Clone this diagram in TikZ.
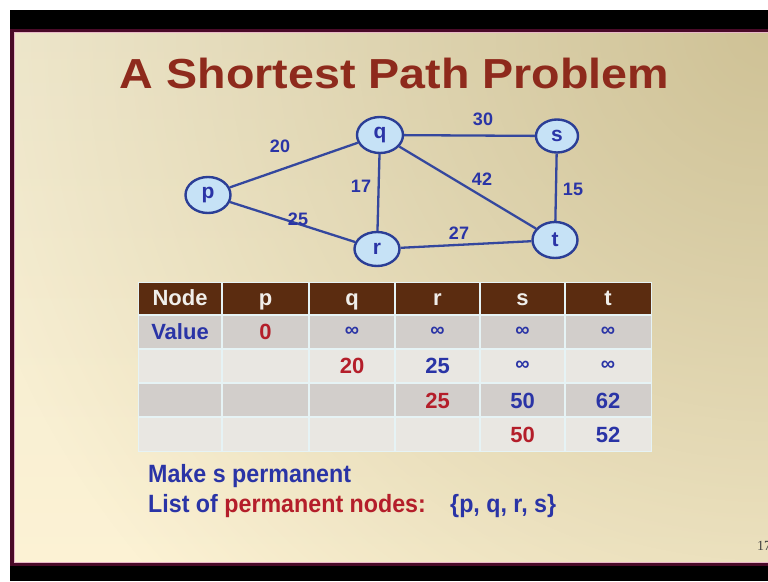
\documentclass[tikz,border=0pt]{standalone}
\usepackage{fontspec}
\setmainfont{Liberation Sans}
\newfontfamily\titlefont{Liberation Sans}[FakeStretch=1.11]
\newfontfamily\bodyfont{Liberation Sans}[FakeStretch=0.93]
\newfontfamily\numfont{Liberation Serif}
\usetikzlibrary{shapes.geometric,fadings}
\definecolor{titlered}{HTML}{8E2A1C}
\definecolor{txtblue}{HTML}{2A34A6}
\definecolor{txtred}{HTML}{B41E2A}
\definecolor{edgeblue}{HTML}{34479E}
\definecolor{nodefill}{HTML}{C6E2F6}
\definecolor{nodeline}{HTML}{2B3E96}
\definecolor{hdrbrown}{HTML}{5B2C10}
\definecolor{hdrtext}{HTML}{F0EEEA}
\definecolor{rowgray}{HTML}{D2CECB}
\definecolor{rowlight}{HTML}{E9E7E2}
\definecolor{sepcol}{HTML}{E6F3F5}
\definecolor{slideborder}{HTML}{4A0A28}
\definecolor{slidepink}{HTML}{E8B8C8}
\definecolor{bgdark}{HTML}{CFC296}
\definecolor{bgtop}{HTML}{F0E9CF}
\definecolor{bglight}{HTML}{FCF2D4}
\tikzfading[name=cornerglow, inner color=transparent!0, outer color=transparent!100]
\begin{document}
\begin{tikzpicture}[x=1pt,y=-1pt,
  gnode/.style={ellipse, draw=nodeline, line width=2.4pt, fill=nodefill,
    minimum width=45pt, minimum height=36pt, inner sep=0pt, text=txtblue,
    font=\bfseries\fontsize{21}{22}\selectfont},
  edgeline/.style={draw=edgeblue, line width=2.3pt},
  elabel/.style={text=txtblue, inner sep=0pt, font=\bfseries\fontsize{18}{20}\selectfont},
  cell/.style={anchor=base, inner sep=0pt, font=\bfseries\fontsize{22}{24}\selectfont},
  hdr/.style={cell, text=hdrtext},
  bluecell/.style={cell, text=txtblue},
  redcell/.style={cell, text=txtred},
  infcell/.style={anchor=center, inner sep=0pt, text=txtblue, font=\bfseries\fontsize{20}{22}\selectfont},
  bodytext/.style={anchor=base west, inner sep=0pt, font=\bodyfont\bfseries\fontsize{25}{28}\selectfont}
]
\useasboundingbox (0,0) rectangle (768,581);
\clip (0,0) rectangle (768,581);
\fill[white] (0,0) rectangle (768,581);
% slide background
\shade[top color=bgtop, bottom color=bglight] (10,29) rectangle (768,566);
\begin{scope}
  \clip (10,29) rectangle (768,566);
  \fill[bgdark, path fading=cornerglow] (768,29) circle (820);
\end{scope}
\fill[black] (10,10) rectangle (768,29);
\fill[black] (10,566) rectangle (768,581);
\fill[slideborder] (10,29) rectangle (768,32);
\fill[slideborder] (10,29) rectangle (14,566);
\fill[slideborder] (10,563) rectangle (768,566);
\draw[slidepink, line width=0.6pt] (14,32.4) -- (768,32.4);
\draw[slidepink, line width=0.6pt] (14.4,32.4) -- (14.4,562.6);
\draw[slidepink, line width=0.6pt] (14.4,562.6) -- (768,562.6);

% title
\node[anchor=base, inner sep=0pt, text=titlered, font=\titlefont\bfseries\fontsize{42}{50}\selectfont] (title) at (394.5,88) {A Shortest Path Problem};

% graph
\node[gnode] (p) at (208,195) {p};
\node[gnode, minimum width=46pt] (q) at (380,135) {q};
\node[gnode, minimum width=42pt, minimum height=33pt] (s) at (557,136) {s};
\node[gnode, minimum height=34pt] (r) at (377,249) {r};
\node[gnode] (t) at (555,240) {t};
\draw[edgeline] (p) -- (q);
\draw[edgeline] (p) -- (r);
\draw[edgeline] (q) -- (s);
\draw[edgeline] (q) -- (r);
\draw[edgeline] (q) -- (t);
\draw[edgeline] (s) -- (t);
\draw[edgeline] (r) -- (t);
\node[elabel] (lpq) at (280,146) {20};
\node[elabel] (lqs) at (483,119) {30};
\node[elabel] (lqr) at (361,186) {17};
\node[elabel] (lqt) at (482,179) {42};
\node[elabel] (lst) at (573,189) {15};
\node[elabel] (lpr) at (298,219) {25};
\node[elabel] (lrt) at (459,233) {27};

% table
\fill[hdrbrown] (138,282) rectangle (651,315);
\fill[rowgray] (138,315) rectangle (651,349);
\fill[rowlight] (138,349) rectangle (651,383);
\fill[rowgray] (138,383) rectangle (651,417);
\fill[rowlight] (138,417) rectangle (651,451);
\foreach \yy in {315,349,383,417} \draw[sepcol, line width=1.6pt] (138,\yy) -- (651,\yy);
\foreach \xx in {222,309,395,480,565} \draw[sepcol, line width=1.6pt] (\xx,282) -- (\xx,451);
\draw[sepcol, line width=1pt] (138,282) rectangle (651,451);

\node[hdr] (hNode) at (180,305.5) {Node};
\node[hdr] (hp) at (265.5,305.5) {p};
\node[hdr] (hq) at (352,305.5) {q};
\node[hdr] (hr) at (437.5,305.5) {r};
\node[hdr] (hs) at (522.5,305.5) {s};
\node[hdr] (ht) at (608,305.5) {t};

\node[bluecell] (vlabel) at (180,339.5) {Value};
\node[redcell] (v1p) at (265.5,339.5) {0};
\node[infcell] (v1q) at (352,332) {∞};
\node[infcell] (v1r) at (437.5,332) {∞};
\node[infcell] (v1s) at (522.5,332) {∞};
\node[infcell] (v1t) at (608,332) {∞};

\node[redcell] (v2q) at (352,373.5) {20};
\node[bluecell] (v2r) at (437.5,373.5) {25};
\node[infcell] (v2s) at (522.5,366) {∞};
\node[infcell] (v2t) at (608,366) {∞};

\node[redcell] (v3r) at (437.5,408) {25};
\node[bluecell] (v3s) at (522.5,408) {50};
\node[bluecell] (v3t) at (608,408) {62};

\node[redcell] (v4s) at (522.5,442) {50};
\node[bluecell] (v4t) at (608,442) {52};

% text below
\node[bodytext, text=txtblue] (make) at (148,482) {Make s permanent};
\node[bodytext, text=txtblue] (list) at (148,512) {List of \textcolor{txtred}{permanent nodes:}};
\node[bodytext, text=txtblue] (set) at (450,512) {\{p, q, r, s\}};

% slide number
\node[anchor=base west, inner sep=0pt, text=black!75, font=\numfont\fontsize{14}{16}\selectfont] (pnum) at (757,550) {17};
\end{tikzpicture}
\end{document}
